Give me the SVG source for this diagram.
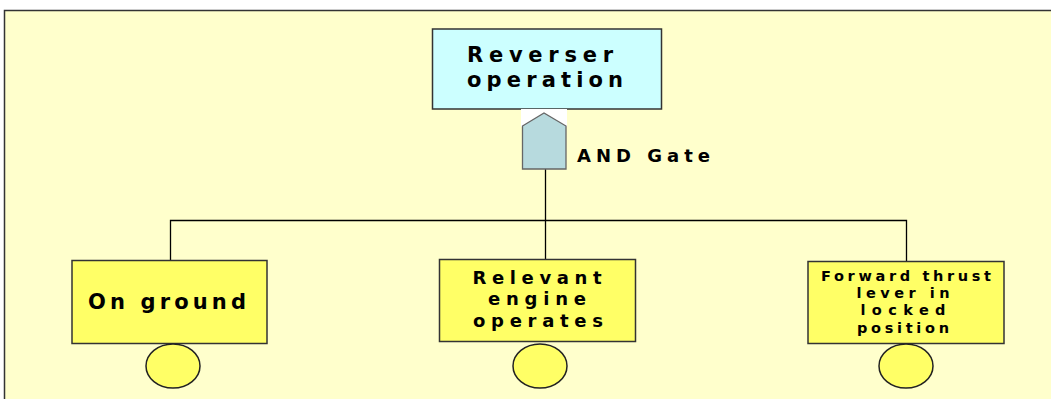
<svg xmlns="http://www.w3.org/2000/svg" width="1051" height="399" viewBox="0 0 1051 399">
<style>
text{font-family:"DejaVu Sans",Verdana,sans-serif;font-weight:bold;fill:#000;text-anchor:middle}
.box{stroke:#333;stroke-width:1.5}
.ev{fill:#FFFF66}
.line{stroke:#000;stroke-width:1.3;fill:none}
.circ{fill:#FFFF66;stroke:#222;stroke-width:1.5}
</style>
<rect x="0" y="0" width="1051" height="399" fill="#fff"/>
<rect x="4.5" y="10.5" width="1100" height="500" fill="#FFFFCC" stroke="#333" stroke-width="1.5"/>
<g id="connectors">
<line class="line" x1="545.5" y1="169" x2="545.5" y2="220"/>
<polyline class="line" points="170.5,260 170.5,220.5 906.5,220.5 906.5,261"/>
<line class="line" x1="545.5" y1="220" x2="545.5" y2="259"/>
</g>
<g id="top">
<rect class="box" x="432.5" y="29" width="229" height="80" fill="#CCFFFF"/>
<text x="540" y="62" font-size="21" textLength="146" lengthAdjust="spacing">Reverser</text>
<text x="545" y="87" font-size="21" textLength="156" lengthAdjust="spacing">operation</text>
</g>
<g id="gate">
<rect x="521" y="109" width="46" height="18" fill="#fff"/>
<polygon points="522.5,126 544,113 566,126 566,169 522.5,169" fill="#B7DADE" stroke="#666" stroke-width="1.3"/>
<text x="577" y="162" font-size="18" style="text-anchor:start" textLength="133" lengthAdjust="spacing">AND Gate</text>
</g>
<g id="node1">
<rect class="box ev" x="72" y="260.5" width="195" height="83"/>
<text x="167" y="309" font-size="21" textLength="158" lengthAdjust="spacing">On ground</text>
<ellipse class="circ" cx="173" cy="366" rx="27" ry="22"/>
</g>
<g id="node2">
<rect class="box ev" x="439.5" y="259.5" width="196" height="82"/>
<text x="537" y="284" font-size="18" textLength="129" lengthAdjust="spacing">Relevant</text>
<text x="537" y="305" font-size="18" textLength="98" lengthAdjust="spacing">engine</text>
<text x="538" y="327" font-size="18" textLength="130" lengthAdjust="spacing">operates</text>
<ellipse class="circ" cx="540" cy="366" rx="27" ry="22"/>
</g>
<g id="node3">
<rect class="box ev" x="808" y="261.5" width="196" height="82"/>
<text x="906" y="281" font-size="14.5" textLength="170" lengthAdjust="spacing">Forward thrust</text>
<text x="903" y="298" font-size="14.5" textLength="93" lengthAdjust="spacing">lever in</text>
<text x="903" y="315" font-size="14.5" textLength="85" lengthAdjust="spacing">locked</text>
<text x="903" y="333" font-size="14.5" textLength="92" lengthAdjust="spacing">position</text>
<ellipse class="circ" cx="906" cy="366" rx="27" ry="22"/>
</g>
</svg>
